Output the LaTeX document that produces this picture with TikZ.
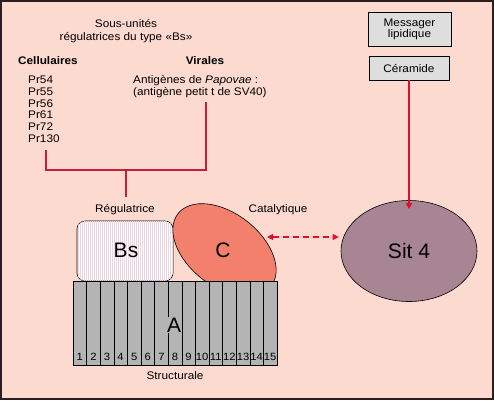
\documentclass[tikz,border=0pt]{standalone}
\usepackage{fontspec}
\setmainfont{Liberation Sans}[FakeStretch=1.07]
\newfontfamily\bigfont{Liberation Sans}
\usetikzlibrary{shapes.geometric,arrows.meta,patterns.meta}
\definecolor{bg}{HTML}{FDDAD0}
\definecolor{frame}{HTML}{2A1E1E}
\definecolor{linered}{HTML}{C81E3C}
\definecolor{arrred}{HTML}{E0102A}
\definecolor{cfill}{HTML}{F2806C}
\definecolor{sitfill}{HTML}{A88593}
\definecolor{agray}{HTML}{B4B4B4}
\definecolor{boxgray}{HTML}{DEDEDE}
\definecolor{bspink}{HTML}{EED4DF}
\begin{document}
\begin{tikzpicture}[x=1pt,y=-1pt,
  txt/.style={font=\fontsize{11}{12}\selectfont, inner sep=0pt},
  bold/.style={font=\bfseries\fontsize{11}{12}\selectfont, inner sep=0pt},
  big/.style={font=\bigfont\fontsize{21}{24}\selectfont, inner sep=0pt},
  redline/.style={draw=linered, line width=1.4pt},
  redarrow/.style={draw=arrred, line width=1.2pt, -{Triangle[length=6pt,width=6pt]}},
  dblarrow/.style={draw=arrred, line width=1.2pt, dash pattern=on 6pt off 4pt,
     {Triangle[length=6pt,width=6pt]}-{Triangle[length=6pt,width=6pt]}},
  graybox/.style={draw=black, line width=0.6pt, fill=boxgray, align=center,
     font=\fontsize{11}{10}\selectfont, inner sep=0pt},
  numlab/.style={font=\fontsize{10.5}{12}\selectfont, inner sep=0pt, anchor=base}]
\useasboundingbox (0,0) rectangle (494,400);
\fill[bg] (0,0) rectangle (494,400);
\draw[frame, line width=2pt] (1,1) rectangle (493,399);

% header texts
\node[txt, anchor=base] (t1) at (126,27.5) {Sous-unités};
\node[txt, anchor=base] (t2) at (126,40) {régulatrices du type «Bs»};
\node[bold, anchor=base west] (cell) at (18,64.5) {Cellulaires};
\node[bold, anchor=base] (vir) at (205,64.5) {Virales};
\node[txt, anchor=base west] (p1) at (28,83.5) {Pr54};
\node[txt, anchor=base west] (p2) at (28,95.3) {Pr55};
\node[txt, anchor=base west] (p3) at (28,107.1) {Pr56};
\node[txt, anchor=base west] (p4) at (28,118.9) {Pr61};
\node[txt, anchor=base west] (p5) at (28,130.7) {Pr72};
\node[txt, anchor=base west] (p6) at (28,142.5) {Pr130};
\node[txt, anchor=base west] (v1) at (133,83.5) {Antigènes de \textit{Papovae} :};
\node[txt, anchor=base west] (v2) at (133,95.5) {(antigène petit t de SV40)};

% connector lines
\coordinate (lc) at (46,150);
\coordinate (lv) at (206,102);
\coordinate (junc) at (126,170);
\coordinate (jd) at (126,197);
\draw[redline] (lc) |- (junc) -| (lv);
\draw[redline] (junc) -- (jd);

% labels
\node[txt, anchor=base] (reg) at (125,212.5) {Régulatrice};
\node[txt, anchor=base] (cat) at (278,212.5) {Catalytique};
\node[txt, anchor=base] (str) at (175,379) {Structurale};

% Bs box
\node[draw=black, line width=0.6pt, rounded corners=8pt, fill=white,
  postaction={pattern={Lines[angle=90,distance=2pt,line width=0.7pt]}, pattern color=bspink},
  minimum width=96pt, minimum height=60pt, inner sep=0pt] (bs) at (125,251) {};
\node[big] (bslab) at (126,250) {Bs};

% C ellipse
\filldraw[fill=cfill, draw=black, line width=0.6pt, rotate around={-38:(224.5,250)}]
  (224.5,250) ellipse [x radius=59pt, y radius=36.5pt];
\node[big] (clab) at (223,250) {C};

% A block
\node[draw=black, line width=0.6pt, fill=agray, minimum width=204pt, minimum height=84pt,
  inner sep=0pt] (blockA) at (175,323) {};
\foreach \i in {1,...,14}{
  \draw[black, line width=0.5pt] (73+\i*13.6,281) -- (73+\i*13.6,365);
}
\foreach \i in {1,...,15}{
  \node[numlab] (n\i) at (73+\i*13.6-6.8,360) {\i};
}
\node[big, fill=agray, inner sep=0.5pt] (alab) at (174,325) {A};

% right side
\node[graybox, minimum width=83pt, minimum height=34pt] (msg) at (409.5,29) {Messager\\lipidique};
\node[graybox, minimum width=80pt, minimum height=24pt] (cer) at (409,68) {Céramide};
\node[ellipse, draw=black, line width=0.6pt, fill=sitfill, minimum width=136pt,
  minimum height=101pt, inner sep=0pt, font=\bigfont\fontsize{21}{24}\selectfont] (sit) at (409,251) {Sit 4};

\draw[redarrow] (cer.south) -- ([yshift=-9pt]sit.north);
\coordinate (dl) at (267,237);
\draw[dblarrow] (dl) -- ([xshift=-2pt]dl -| sit.west);
\end{tikzpicture}
\end{document}
